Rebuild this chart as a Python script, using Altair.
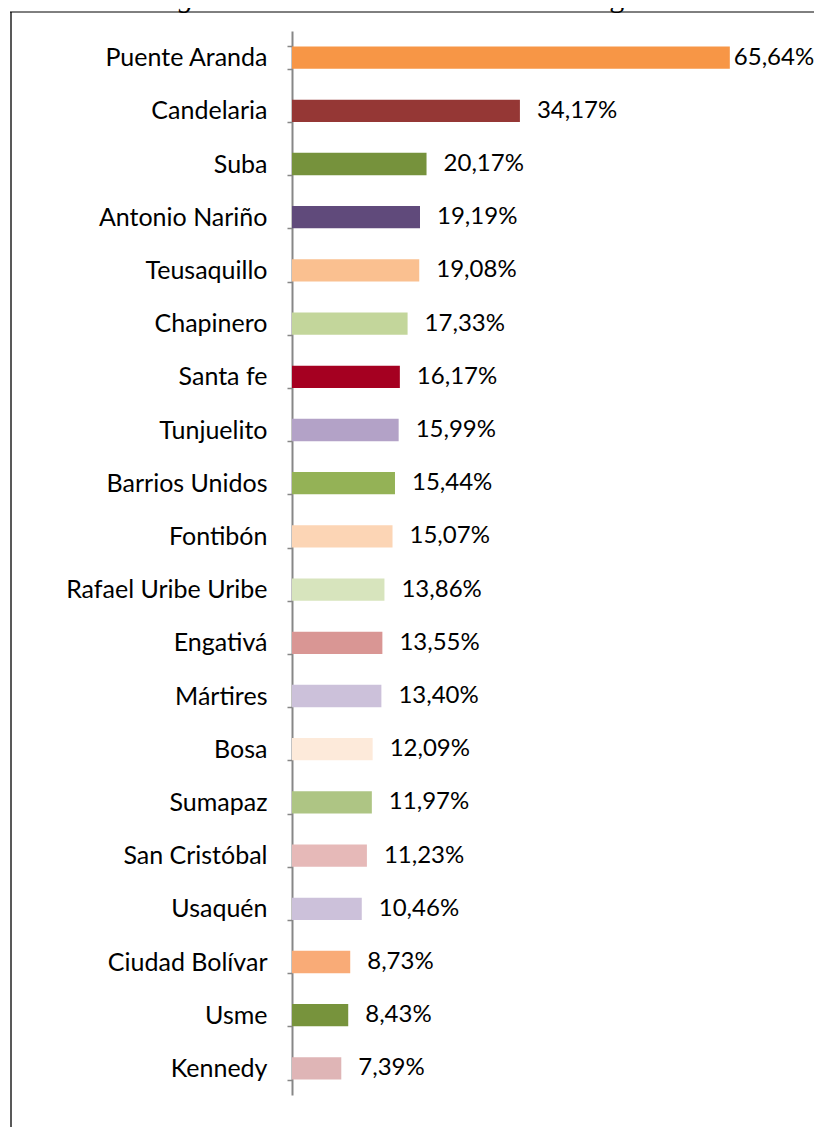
import altair as alt
import pandas as pd

categories = ["Puente Aranda", "Candelaria", "Suba", "Antonio Nariño", "Teusaquillo",
              "Chapinero", "Santa fe", "Tunjuelito", "Barrios Unidos", "Fontibón",
              "Rafael Uribe Uribe", "Engativá", "Mártires", "Bosa", "Sumapaz",
              "San Cristóbal", "Usaquén", "Ciudad Bolívar", "Usme", "Kennedy"]
values = [65.64, 34.17, 20.17, 19.19, 19.08, 17.33, 16.17, 15.99, 15.44, 15.07,
          13.86, 13.55, 13.40, 12.09, 11.97, 11.23, 10.46, 8.73, 8.43, 7.39]
colors = ["#F79646", "#953735", "#76923C", "#604A7B", "#FAC090",
          "#C3D69B", "#A50021", "#B3A2C7", "#94B256", "#FCD5B5",
          "#D7E4BD", "#D99694", "#CCC1DA", "#FDEADA", "#AEC584",
          "#E6B9B8", "#CCC1DA", "#F9AB77", "#77933C", "#DFB5B6"]
title_italic = "Figura 2."
title_rest = "Avance de autorización de giros"

df = pd.DataFrame({"zona": categories, "valor": values})
df["etiqueta"] = [f"{v:.2f}".replace(".", ",") + "%" for v in values]

FONT = "Lato"
W, H = 522, 1064

y_enc = alt.Y("zona:N", sort=categories,
              scale=alt.Scale(paddingInner=0.58, paddingOuter=0.29),
              axis=alt.Axis(title=None, domainColor="#878787", domainWidth=2,
                            tickColor="#878787", tickSize=5, tickWidth=1.5,
                            tickBand="extent", labelFont=FONT, labelFontSize=25,
                            labelColor="black", labelPadding=20, labelLimit=400))
x_enc = alt.X("valor:Q", scale=alt.Scale(domain=[0, 78.26], nice=False), axis=None)

base = alt.Chart(df)

bars = base.mark_bar().encode(
    x=x_enc, y=y_enc,
    color=alt.Color("zona:N", scale=alt.Scale(domain=categories, range=colors), legend=None),
)

labels = base.transform_filter(alt.datum.valor < 50).mark_text(
    align="left", baseline="middle", dx=17, font=FONT, fontSize=24, color="black"
).encode(x=x_enc, y=alt.Y("zona:N", sort=categories), text="etiqueta:N")

labels_big = base.transform_filter(alt.datum.valor >= 50).mark_text(
    align="left", baseline="middle", dx=4, font=FONT, fontSize=24, color="black"
).encode(x=x_enc, y=alt.Y("zona:N", sort=categories), text="etiqueta:N")

one = pd.DataFrame({"a": [1]})
t1 = alt.Chart(pd.DataFrame({"t": [title_italic]})).mark_text(
    align="left", baseline="alphabetic", font="Liberation Serif", fontSize=30,
    fontStyle="italic", color="black"
).encode(text="t:N", x=alt.value(-140), y=alt.value(-24))
t2 = alt.Chart(pd.DataFrame({"t": [title_rest]})).mark_text(
    align="left", baseline="alphabetic", font="Liberation Serif", fontSize=30,
    color="black"
).encode(text="t:N", x=alt.value(-7), y=alt.value(-24))

frame_left = alt.Chart(one).mark_rule(color="#595959", strokeWidth=2).encode(
    x=alt.value(-281), y=alt.value(-19), y2=alt.value(1200))
frame_top = alt.Chart(one).mark_rule(color="black", strokeWidth=1).encode(
    x=alt.value(-282), x2=alt.value(700), y=alt.value(-19))

chart = alt.layer(bars, labels, labels_big, t1, t2, frame_left, frame_top).properties(
    width=W, height=H,
    autosize=alt.AutoSizeParams(type="none"),
    padding={"left": 284, "top": 23, "right": 0, "bottom": 32},
    background="white",
).configure_view(stroke=None)

chart.save("out.html", embed_options={"renderer": "svg", "actions": False})
